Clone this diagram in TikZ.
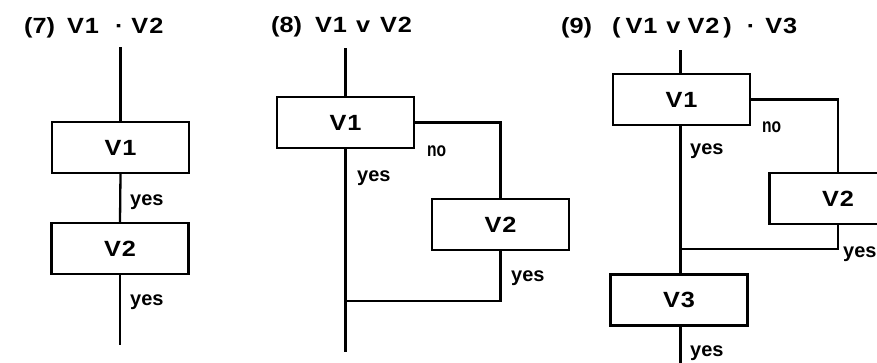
\documentclass[tikz,border=0pt]{standalone}
\usepackage{fontspec}
\newfontfamily\capfont{Liberation Sans}[FakeStretch=1.15]
\newfontfamily\smallfont{Liberation Sans}
\newfontfamily\narrowfont{Liberation Sans}[FakeStretch=0.78]
\newcommand\lsp[1]{\hspace{#1pt}}
\tikzset{
  box/.style={draw, line width=2.3pt, minimum width=137pt, minimum height=51pt, inner sep=0pt,
    font=\capfont\bfseries\fontsize{22}{22}\selectfont},
  wire/.style={line width=2.3pt},
  lbl/.style={anchor=base west, inner sep=0pt, font=\smallfont\bfseries\fontsize{20}{20}\selectfont},
  nolbl/.style={anchor=base west, inner sep=0pt, font=\narrowfont\bfseries\fontsize{20}{20}\selectfont},
  ttl/.style={anchor=base west, inner sep=0pt, font=\capfont\bfseries\fontsize{22}{22}\selectfont}
}
\begin{document}
\begin{tikzpicture}[x=1pt,y=-1pt]
\useasboundingbox (0,0) rectangle (877,362);
\clip (0,0) rectangle (877,362);
% ---------- panel 7
\node[ttl] (t7) at (24,33) {(7)\lsp{12}V\lsp{1}1\lsp{16}·\lsp{8}V\lsp{1}2};
\coordinate (a0) at (120.5,47);
\node[box] (a1) at (120.5,147.5) {V\lsp{1}1};
\node[box] (a2) at (120,248.5) {V\lsp{1}2};
\coordinate (a3) at (120,345);
\draw[wire] (a0) -- (a1.north);
\draw[wire] (a1.south) -- (a2.north);
\draw[wire] (a2.south) -- (a3);
\node[lbl] (y7a) at (130,205) {yes};
\node[lbl] (y7b) at (130,305) {yes};
% ---------- panel 8
\node[ttl] (t8) at (271,32) {(8)\lsp{13}V\lsp{1}1\lsp{9}v\lsp{10}V\lsp{1}2};
\coordinate (b0) at (345.5,48);
\node[box] (b1) at (345.5,122.5) {V\lsp{1}1};
\node[box] (b2) at (500.5,224.5) {V\lsp{1}2};
\coordinate (bj) at (345.5,301);
\coordinate (b3) at (345.5,352);
\draw[wire] (b0) -- (b1.north);
\draw[wire] (b1.east) -| (b2.north);
\draw[wire] (b2.south) |- (bj);
\draw[wire] (b1.south) -- (b3);
\node[nolbl] (n8) at (427,156) {no};
\node[lbl] (y8a) at (357,181) {yes};
\node[lbl] (y8b) at (511,281) {yes};
% ---------- panel 9
\node[ttl] (t9) at (561,33) {(9)\lsp{20}(\lsp{5}V\lsp{1}1\lsp{9}v\lsp{7}V\lsp{1}2\lsp{4})\lsp{15}·\lsp{10}V\lsp{1}3};
\coordinate (c0) at (680.5,50);
\node[box] (c1) at (681.5,99.5) {V\lsp{1}1};
\node[box] (c2) at (838,198.5) {V\lsp{1}2};
\coordinate (cj) at (680.5,249);
\node[box] (c3) at (679,300) {V\lsp{1}3};
\coordinate (c4) at (680.5,372);
\draw[wire] (c0) -- (c0 |- c1.north);
\draw[wire] (c1.east) -| (c2.north);
\draw[wire] (c2.south) |- (cj);
\draw[wire] (cj |- c1.south) -- (cj |- c3.north);
\draw[wire] (cj |- c3.south) -- (c4);
\node[nolbl] (n9) at (762,132) {no};
\node[lbl] (y9a) at (690,154) {yes};
\node[lbl] (y9b) at (843,257) {yes};
\node[lbl] (y9c) at (690,356) {yes};
\end{tikzpicture}
\end{document}
